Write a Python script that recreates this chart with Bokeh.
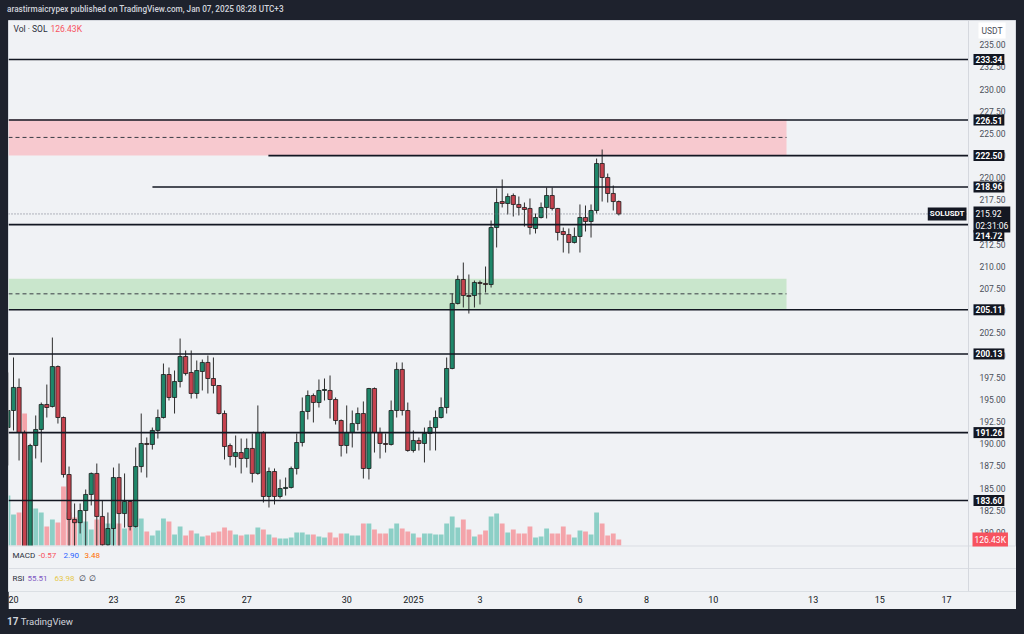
import numpy as np
from bokeh.plotting import figure
from bokeh.models import (ColumnDataSource, Range1d, FixedTicker, Label, Div,
                          Spacer, Span)
from bokeh.core.properties import value
from bokeh.layouts import column, row
from bokeh.embed import file_html
from bokeh.resources import INLINE

# ---------------- data (SOL/USDT, 4h candles) ----------------
opens = [191.83, 193.75, 196.35, 191.27, 178.20, 189.80, 191.61, 194.43, 194.20, 198.71,
         192.96, 186.53, 181.46, 181.10, 182.47, 184.28, 186.65, 181.80, 178.60, 180.44,
         186.19, 182.13, 183.49, 180.67, 187.43, 190.03, 189.92, 191.50, 192.96, 197.81,
         195.22, 197.02, 199.84, 198.04, 195.67, 198.15, 199.17, 197.36, 196.57, 193.41,
         189.80, 188.56, 189.01, 188.34, 189.47, 186.65, 191.27, 184.05, 186.87, 184.05,
         184.95, 185.07, 187.21, 190.14, 193.64, 195.44, 194.65, 196.01, 196.01, 194.99,
         192.62, 189.80, 191.27, 192.28, 193.41, 187.21, 196.23, 191.27, 190.03, 189.92,
         193.75, 198.38, 193.75, 189.24, 190.37, 190.03, 191.16, 191.83, 192.96, 194.09,
         198.49, 205.82, 208.53, 206.72, 206.72, 208.19, 208.08, 207.96, 214.39, 217.32,
         217.10, 218.00, 216.99, 216.65, 216.54, 214.28, 215.52, 216.65, 218.00, 216.54,
         213.94, 213.60, 212.70, 213.38, 215.52, 215.07, 216.31, 221.61, 220.03, 218.23,
         217.32]
highs = [198.04, 199.73, 197.36, 191.50, 190.00, 193.19, 194.65, 196.68, 201.98, 198.83,
         193.07, 187.43, 183.26, 183.26, 184.84, 186.76, 187.77, 183.60, 182.25, 187.32,
         187.77, 186.65, 183.60, 189.58, 193.41, 190.71, 191.83, 193.86, 199.05, 198.60,
         198.26, 201.87, 200.52, 200.52, 199.39, 199.50, 199.95, 199.73, 196.60, 193.75,
         190.03, 190.93, 190.59, 190.59, 191.16, 194.32, 191.40, 187.32, 187.21, 185.97,
         186.19, 187.43, 191.16, 195.22, 196.01, 195.67, 197.25, 197.36, 197.70, 195.22,
         192.74, 194.32, 193.75, 194.09, 194.77, 196.30, 196.35, 191.83, 191.16, 194.88,
         199.17, 199.17, 194.65, 191.50, 190.71, 191.83, 192.62, 193.75, 195.22, 199.73,
         206.95, 208.98, 210.44, 209.09, 208.41, 208.41, 209.99, 215.18, 218.79, 219.81,
         218.23, 218.23, 217.89, 217.21, 217.66, 215.97, 217.21, 218.90, 218.90, 216.60,
         214.39, 214.28, 214.39, 216.99, 216.87, 216.99, 222.17, 223.19, 220.48, 219.13,
         217.44]
lows = [187.55, 191.50, 188.11, 177.80, 177.90, 188.34, 187.89, 192.96, 194.09, 192.28,
        186.19, 178.40, 178.40, 179.88, 178.40, 183.04, 178.40, 178.20, 178.30, 178.40,
        178.40, 180.55, 180.22, 180.55, 186.76, 186.19, 189.35, 190.59, 192.85, 194.88,
        193.41, 196.35, 197.70, 195.10, 195.10, 196.01, 195.67, 195.67, 193.30, 188.22,
        187.55, 187.32, 186.65, 187.32, 185.63, 186.50, 183.37, 182.81, 183.15, 183.83,
        184.16, 184.95, 186.53, 189.69, 192.74, 192.40, 194.09, 194.88, 192.85, 192.17,
        188.56, 188.90, 189.58, 191.50, 186.08, 185.97, 189.01, 188.34, 189.01, 189.80,
        192.96, 193.19, 189.10, 189.01, 189.24, 187.89, 189.24, 189.24, 192.85, 193.41,
        198.40, 205.71, 205.37, 204.69, 205.37, 205.71, 207.06, 207.62, 212.14, 216.65,
        215.86, 215.63, 215.75, 214.50, 213.60, 213.72, 215.41, 215.41, 216.31, 212.93,
        211.57, 211.46, 212.59, 211.57, 213.94, 213.26, 215.97, 217.32, 217.21, 216.31,
        215.75]
closes = [193.75, 196.35, 191.27, 178.20, 189.80, 191.61, 194.43, 194.09, 198.71, 192.96,
          186.53, 181.46, 181.10, 182.47, 184.28, 186.65, 181.80, 178.60, 180.44, 186.19,
          182.13, 183.49, 180.67, 187.43, 190.03, 189.92, 191.50, 192.96, 197.81, 195.22,
          197.02, 199.84, 197.92, 195.67, 198.26, 199.17, 197.36, 196.57, 193.41, 189.69,
          188.56, 189.01, 188.34, 189.47, 186.65, 191.27, 184.05, 186.87, 184.05, 184.95,
          185.07, 187.21, 190.14, 193.64, 195.44, 194.65, 196.01, 196.12, 194.99, 192.62,
          189.80, 191.27, 192.28, 193.41, 187.21, 196.23, 191.27, 190.03, 189.92, 193.75,
          198.38, 193.75, 189.24, 190.37, 190.03, 191.16, 191.83, 192.96, 194.09, 198.49,
          205.82, 208.53, 206.72, 206.61, 208.19, 208.08, 207.96, 214.39, 217.21, 217.10,
          217.89, 216.99, 216.65, 216.42, 214.39, 215.52, 216.65, 218.00, 216.54, 213.83,
          213.60, 212.70, 213.38, 215.52, 215.07, 216.31, 221.61, 220.03, 218.23, 217.32,
          215.92]
volumes_k = [1050, 651, 693, 2772, 1785, 777, 693, 399, 546, 483,
             1239, 693, 588, 504, 504, 336, 546, 483, 462, 462,
             462, 357, 399, 399, 567, 294, 210, 315, 567, 504,
             231, 399, 210, 315, 252, 189, 210, 273, 294, 378,
             315, 231, 210, 231, 231, 378, 336, 231, 168, 147,
             147, 168, 273, 273, 231, 231, 189, 168, 273, 168,
             252, 252, 210, 210, 462, 462, 336, 252, 252, 357,
             462, 357, 294, 252, 168, 252, 252, 231, 231, 462,
             609, 378, 546, 336, 189, 231, 315, 609, 672, 462,
             273, 336, 252, 252, 399, 168, 189, 357, 252, 252,
             399, 231, 168, 315, 294, 231, 693, 462, 210, 252,
             126.43]

first_candle_day = -1 / 6      # Dec 19 20:00, in days after Dec 20 00:00
candle_step_day = 1 / 6        # 4 hour candles

day_ticks = [0, 3, 5, 7, 10, 12, 14, 17, 19, 21, 24, 26, 28]
day_tick_labels = ["20", "23", "25", "27", "30", "2025", "3", "6", "8", "10", "13", "15", "17"]
price_ticks = [180.0 + 2.5 * k for k in range(23)]

level_prices = [233.34, 226.51, 222.50, 218.96, 214.72, 205.11, 200.13, 191.26, 183.60]
level_start_days = [None, None, 7.65, 4.17, None, None, None, None, None]
zone_bottoms = [222.50, 205.20]
zone_tops = [226.60, 208.62]
zone_colors = ["#f7c9cf", "#c9e6cc"]
zone_end_day = 23.2

last_price = 215.92
countdown = "02:31:06"
last_volume = "126.43K"
macd_values = ["-0.57", "2.90", "3.48"]
rsi_values = ["55.51", "63.98", "\u2205", "\u2205"]

# ---------------- styling / geometry ----------------
DARK = "#1e222d"
PANEL = "#f0f2f5"
UP = "#1f876a"
DOWN = "#c6424e"
VOL_UP = "#8ccfc6"
VOL_DOWN = "#f4a4aa"
INK = "#131722"
FONT = "Roboto"

def px_to_day(px):
    return (px - 13.0) / 33.32

def py_to_price(py):
    return 183.6 + (500.0 - py) / 8.866

X0, X1 = px_to_day(8), px_to_day(1016)     # whole panel width
XP = px_to_day(968)                          # right edge of the price pane
Y0, Y1 = py_to_price(591), py_to_price(20)
VOL_PER_PX = 21.0

p = figure(width=1008, height=589, x_range=Range1d(X0, X1), y_range=Range1d(Y0, Y1),
           output_backend="svg", toolbar_location=None,
           min_border_left=0, min_border_top=0, min_border_right=0, min_border_bottom=18,
           background_fill_color=PANEL, border_fill_color=PANEL)
p.outline_line_color = "#d5d8de"
p.grid.visible = False
p.yaxis.visible = False
p.extra_y_ranges = {"vol": Range1d(-46 * VOL_PER_PX, 525 * VOL_PER_PX)}

p.xaxis.ticker = FixedTicker(ticks=day_ticks)
p.xaxis.major_label_overrides = {d: s for d, s in zip(day_ticks, day_tick_labels)}
p.xaxis.axis_line_color = None
p.xaxis.major_tick_line_color = None
p.xaxis.minor_tick_line_color = None
p.xaxis.major_tick_out = 0
p.xaxis.major_label_standoff = 4
p.xaxis.major_label_text_font = FONT
p.xaxis.major_label_text_font_size = "9px"
p.xaxis.major_label_text_color = INK

# candle source
n = len(opens)
days = [first_candle_day + i * candle_step_day for i in range(n)]
is_up = [c >= o for o, c in zip(opens, closes)]
src = ColumnDataSource(dict(
    day=days, open=opens, high=highs, low=lows, close=closes,
    top=[max(o, c) for o, c in zip(opens, closes)],
    bottom=[min(o, c) for o, c in zip(opens, closes)],
    body=[UP if u else DOWN for u in is_up],
    vol=volumes_k,
    volc=[VOL_UP if u else VOL_DOWN for u in is_up],
))

# zones
zsrc = ColumnDataSource(dict(left=[X0] * 2, right=[zone_end_day] * 2, bottom=zone_bottoms,
                             top=zone_tops, color=zone_colors,
                             mid=[(b + t) / 2 for b, t in zip(zone_bottoms, zone_tops)]))
p.quad(left="left", right="right", bottom="bottom", top="top", fill_color="color",
       line_color=None, source=zsrc)
p.segment(x0="left", x1="right", y0="mid", y1="mid", line_color="#3a3d45", line_width=1,
          line_dash="4 3", source=zsrc)

# volume
p.vbar(x="day", width=0.145, top="vol", bottom=0, fill_color="volc", line_color=None,
       y_range_name="vol", source=src)

# candles
p.segment(x0="day", x1="day", y0="low", y1="high", line_color="#2e2e2e", line_width=1, source=src)
p.vbar(x="day", width=0.125, top="top", bottom="bottom", fill_color="body",
       line_color="#1b1b1b", line_width=0.8, source=src)

# hide what falls below the price pane (indicator panes)
p.quad(left=[X0], right=[X1], bottom=[Y0], top=[py_to_price(545.5)], fill_color=PANEL,
       line_color=None)
for sep in (py_to_price(545.5), py_to_price(568)):
    p.add_layout(Span(location=sep, dimension="width", line_color="#dadde3", line_width=1))
# separator between price pane and price scale
p.add_layout(Span(location=XP, dimension="height", line_color="#d5d8de", line_width=1))

# level lines
lsrc = ColumnDataSource(dict(x0=[X0 if s is None else s for s in level_start_days],
                             x1=[XP] * len(level_prices), y=level_prices))
p.segment(x0="x0", x1="x1", y0="y", y1="y", line_color=INK, line_width=1.6, source=lsrc)

# last price dotted line
p.segment(x0=[X0], x1=[XP], y0=[last_price], y1=[last_price], line_color="#6f7380",
          line_width=1, line_dash="1 2")

# price scale tick labels
tsrc = ColumnDataSource(dict(x=[px_to_day(979)] * len(price_ticks), y=price_ticks,
                             t=[f"{v:.2f}" for v in price_ticks]))
p.text(x="x", y="y", text="t", source=tsrc, text_font=value(FONT), text_font_size="8.5px",
       text_color="#4a4e59", text_align="left", text_baseline="middle")

# ---------------- text annotations ----------------
def lab(text, px, py, color=INK, bg=None, size="8.5px", align="left", bold=False, border=None, pad=0):
    kw = {}
    if bg is not None:
        kw["background_fill_color"] = bg
    if border is not None:
        kw["border_line_color"] = border
    l = Label(x=px_to_day(px), y=py_to_price(py), text=text, text_color=color,
              text_font=FONT, text_font_size=size, text_align=align, text_baseline="middle",
              text_font_style="bold" if bold else "normal", padding=pad, **kw)
    p.add_layout(l)

lab("Vol \u00b7 SOL", 13, 28, color="#2a2e39", size="8.5px")
lab(last_volume, 50, 28, color="#f7525f", size="8.5px")

lab("MACD", 12, 555, color="#2a2e39", size="8px")
for t, x, c in zip(macd_values, [38, 63, 84], ["#f7525f", "#2962ff", "#ff6d00"]):
    lab(t, x, 555, color=c, size="8px")
lab("RSI", 12, 578, color="#2a2e39", size="8px")
for t, x, c in zip(rsi_values, [27, 54, 78, 88], ["#7e57c2", "#e6c84a", "#2a2e39", "#2a2e39"]):
    lab(t, x, 578, color=c, size="8px")

# price scale boxes
def level_y(price):
    return 500.0 - (price - 183.6) * 8.866

for price in level_prices:
    y = level_y(price)
    if abs(price - 214.72) < 1e-6:
        y = 235
    lab(f"{price:.2f}", 973, y, color="white", bg=INK, bold=True, pad=2)

lab(f"{last_price:.2f}\n{countdown}", 973, 219, color="white", bg=INK, bold=False, pad=2)
lab("SOLUSDT", 966, level_y(last_price), color="white", bg=INK, bold=True, align="right", pad=2, size="8px")
lab(last_volume, 972, 539, color="white", bg="#f7525f", pad=2)
lab("USDT", 978, 30, color="#4a4e59", bg="white", pad=3)

# ---------------- page layout ----------------
header = Div(text=('<div style="padding:4px 0 0 7px;color:#d1d4dc;font-family:Roboto;'
                   'font-size:8.2px;font-weight:500;white-space:nowrap;">'
                   'arastirmaicrypex published on TradingView.com, Jan 07, 2025 08:28 UTC+3</div>'),
             width=1024, height=20, margin=0)
footer = Div(text=('<div style="padding:6px 0 0 7px;color:#d1d4dc;font-family:Roboto;'
                   'font-size:9.5px;white-space:nowrap;"><b style="font-size:10px;">17</b> TradingView</div>'),
             width=1024, height=25, margin=0)
mid = row(Spacer(width=8, height=589, margin=0), p, Spacer(width=8, height=589, margin=0),
          spacing=0, margin=0)
page = column(header, mid, footer, spacing=0, width=1024, height=634, margin=0,
              styles={"background-color": DARK})

open("out.html", "w").write(file_html(page, INLINE))
